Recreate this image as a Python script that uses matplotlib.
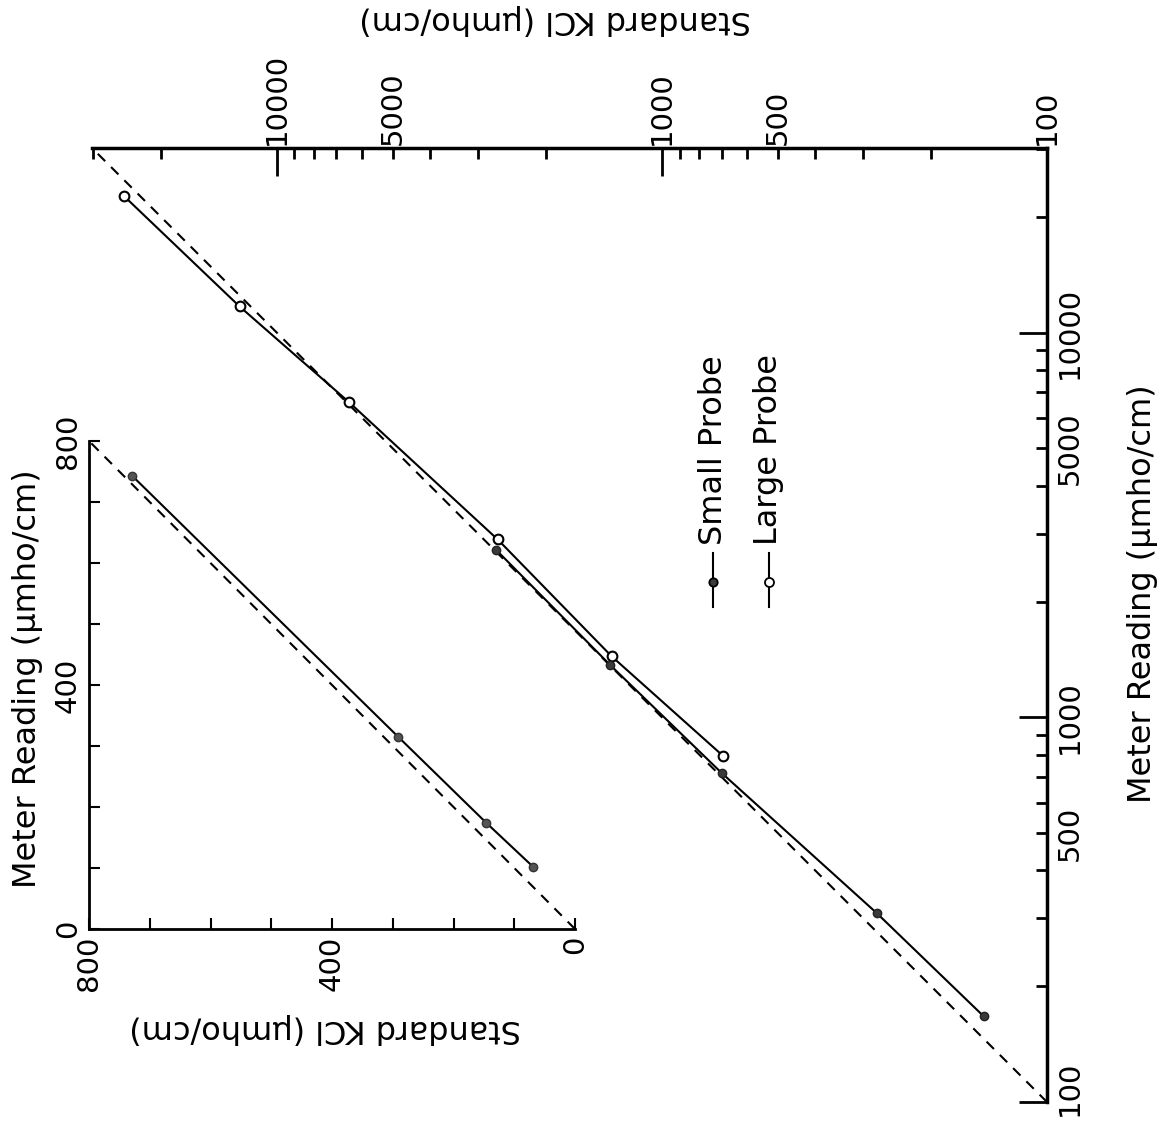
import matplotlib
matplotlib.use("Agg")
import matplotlib.pyplot as plt
from matplotlib.ticker import FixedLocator, FuncFormatter, MultipleLocator
from matplotlib.lines import Line2D
from matplotlib.transforms import ScaledTranslation

# main log-log chart: standard KCl vs meter reading (umho/cm)
kcl_large = [25000, 12500, 6500, 2670, 1350, 695]
meter_large = [22700, 11700, 6600, 2900, 1440, 795]
kcl_small = [2700, 1365, 700, 277, 146]
meter_small = [2730, 1370, 717, 310, 167]

# inset linear chart (small probe, low range)
kcl_inset = [729, 291, 146, 69]
meter_inset = [743, 315, 174, 102]

log_major = [100, 1000, 10000]
log_minor = [200, 300, 400, 500, 600, 700, 800, 900,
             2000, 3000, 4000, 5000, 6000, 7000, 8000, 9000, 20000, 30000]
log_labels = [100, 500, 1000, 5000, 10000]
lin_labels = [0, 400, 800]
log_lim = [100, 30200]
lin_lim = [0, 800]

xlab = "Standard KCl (\u03bcmho/cm)"
ylab = "Meter Reading (\u03bcmho/cm)"

plt.rcParams["font.family"] = ["DejaVu Sans"]

W, H = 1163, 1125
fig = plt.figure(figsize=(W / 100, H / 100), dpi=100)

# ---- main axes
ax = fig.add_axes([92 / W, (H - 1102) / H, 955 / W, 954 / H])
ax.set_facecolor("none")
ax.set_xscale("log")
ax.set_yscale("log")
ax.set_xlim(log_lim[1], log_lim[0])
ax.set_ylim(log_lim[0], log_lim[1])

ax.plot(log_lim, log_lim, color="k", lw=1.5, ls=(0, (5, 4)))
ax.plot(kcl_large, meter_large, "-o", color="k", lw=1.5, ms=7, mfc="white", mec="k", mew=1.5)
ax.plot(kcl_small, meter_small, "-o", color="k", lw=1.5, ms=6, mfc="#3a3a3a", mec="#222222")

for s in ["left", "bottom"]:
    ax.spines[s].set_visible(False)
for s in ["top", "right"]:
    ax.spines[s].set_linewidth(2.5)

ax.xaxis.tick_top()
ax.yaxis.tick_right()
logfmt = FuncFormatter(lambda v, p: str(int(round(v))) if int(round(v)) in log_labels else "")
for a in [ax.xaxis, ax.yaxis]:
    a.set_major_locator(FixedLocator(log_major))
    a.set_minor_locator(FixedLocator(log_minor))
    a.set_major_formatter(logfmt)
    a.set_minor_formatter(logfmt)
ax.tick_params(which="both", direction="in", width=2, labelsize=21, labelrotation=90)
ax.tick_params(which="major", length=20)
ax.tick_params(which="minor", length=8)
ax.tick_params(axis="x", which="both", pad=2)
ax.tick_params(axis="y", which="both", pad=6)
for t in ax.yaxis.get_major_ticks() + ax.yaxis.get_minor_ticks():
    t.label2.set_va("center")
# lowest right-hand label sits a little above its tick, inside the page
low = ax.yaxis.get_major_ticks()[0].label2
low.set_transform(low.get_transform() + ScaledTranslation(0, 14 / 100, fig.dpi_scale_trans))

ax.set_xlabel(xlab, fontsize=23, rotation=180, ha="center", va="center")
ax.xaxis.set_label_position("top")
ax.xaxis.set_label_coords(0.485, 1.126)
ax.set_ylabel(ylab, fontsize=23, rotation=90, ha="center", va="center")
ax.yaxis.set_label_position("right")
ax.yaxis.set_label_coords(1.084, 0.533)

# ---- inset axes
ax2 = fig.add_axes([89 / W, (H - 929) / H, 486 / W, 488 / H])
ax2.set_facecolor("none")
ax2.set_xlim(lin_lim[1], lin_lim[0])
ax2.set_ylim(lin_lim[0], lin_lim[1])
ax2.plot(lin_lim, lin_lim, color="k", lw=1.5, ls=(0, (5, 4)))
ax2.plot(kcl_inset, meter_inset, "-o", color="k", lw=1.5, ms=6, mfc="#555555", mec="#333333")
for s in ["top", "right"]:
    ax2.spines[s].set_visible(False)
for s in ["left", "bottom"]:
    ax2.spines[s].set_linewidth(2)
linfmt = FuncFormatter(lambda v, p: str(int(round(v))) if int(round(v)) in lin_labels else "")
for a in [ax2.xaxis, ax2.yaxis]:
    a.set_major_locator(MultipleLocator(100))
    a.set_major_formatter(linfmt)
ax2.tick_params(direction="in", length=8, width=1.5, labelsize=21, labelrotation=90, pad=5)
for t in ax2.yaxis.get_major_ticks():
    t.label1.set_va("center")
ax2.set_xlabel(xlab, fontsize=23, rotation=180, ha="center", va="center")
ax2.xaxis.set_label_coords(0.486, -0.203)
ax2.set_ylabel(ylab, fontsize=23, rotation=90, ha="center", va="center")
ax2.yaxis.set_label_coords(-0.126, 0.512)

# ---- legend drawn upright-rotated like the rest of the page
def legend_entry(xpx, text, mfc, ms):
    x = xpx / W
    fig.add_artist(Line2D([x, x], [(H - 607) / H, (H - 553) / H], color="k", lw=1.5,
                          transform=fig.transFigure))
    fig.add_artist(Line2D([x], [(H - 582) / H], marker="o", ms=ms, mfc=mfc, mec="k", mew=1.3,
                          transform=fig.transFigure))
    fig.text(x, (H - 545) / H, text, rotation=90, ha="center", va="bottom", fontsize=23)

legend_entry(713, "Small Probe", "#3a3a3a", 6)
legend_entry(769, "Large Probe", "white", 6.5)

fig.savefig("out.png", dpi=100)
